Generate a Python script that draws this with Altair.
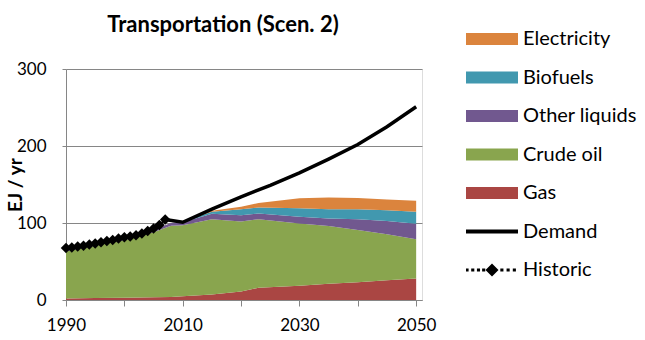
import altair as alt
import pandas as pd

# ---- data ----
years = [1990, 1995, 2000, 2005, 2008, 2010, 2015, 2020, 2023, 2030, 2035, 2040, 2045, 2050]
gas = [2, 2.5, 3, 3.5, 4, 5, 7, 11, 16, 18.5, 21, 23, 25.5, 28]
crude_oil = [61, 68, 74.5, 84.5, 92.5, 92, 98, 91, 89, 81, 75, 68, 60, 51]
other_liquids = [3, 3, 3, 3.5, 3.5, 4, 7, 8, 7.5, 8.5, 10, 14, 17, 20]
biofuels = [0, 0, 0, 0, 0, 1, 2.5, 8, 7.5, 11, 12, 13, 14, 15.5]
electricity = [0, 0, 0, 0, 0, 0.5, 1.5, 3, 6, 13, 15, 14.5, 14, 14.5]

demand_years = [2007, 2010, 2015, 2020, 2025, 2030, 2035, 2040, 2045, 2050]
demand = [104.5, 101, 118, 134, 149, 165, 183, 202, 225, 251]

historic_years = list(range(1990, 2008))
historic = [67.5, 68.3, 69.5, 70.5, 72, 73.5, 75, 76.5, 78, 80, 81.5, 82.5, 84,
            86.5, 89.5, 93, 97.5, 104.5]

series_names = ["Electricity", "Biofuels", "Other liquids", "Crude oil", "Gas", "Demand", "Historic"]
series_colors = ["#DB843D", "#4198AF", "#71588F", "#89A54E", "#AA4643", "#000000", "#000000"]
x_ticks = [1990, 2000, 2010, 2020, 2030, 2040, 2050]
y_ticks = [0, 100, 200, 300]

# ---- tables ----
stack_series = [("Gas", gas), ("Crude oil", crude_oil), ("Other liquids", other_liquids),
                ("Biofuels", biofuels), ("Electricity", electricity)]
rows = []
for order, (name, vals) in enumerate(stack_series):
    for yr, v in zip(years, vals):
        rows.append({"year": yr, "value": v, "series": name, "ord": order})
stack_df = pd.DataFrame(rows)
demand_df = pd.DataFrame({"year": demand_years, "value": demand})
hist_df = pd.DataFrame({"year": historic_years, "value": historic})

FONT = "Lato"
GRID = "#868686"

RECT = "M-1,-0.23H1V0.23H-1Z"
DEM = "M-1,-0.08H1V0.08H-1Z"
dots = "".join(f"M{c-0.06:.2f},-0.06H{c+0.06:.2f}V0.06H{c-0.06:.2f}Z"
               for c in [-0.96, -0.74, -0.52, -0.32, 0.38, 0.62, 0.86])
HIST = dots + "M-0.25,0L0,-0.25L0.25,0L0,0.25Z"
shape_expr = (f"datum.value === 'Historic' ? '{HIST}' : "
              f"(datum.value === 'Demand' ? '{DEM}' : '{RECT}')")

x_enc = alt.X("year:Q",
              scale=alt.Scale(domain=[1990, 2051], nice=False, zero=False),
              axis=alt.Axis(values=x_ticks, format="d",
                            labelExpr="(datum.value - 1990) % 20 == 0 ? datum.label : ''",
                            title=None, grid=False, domainColor=GRID, tickColor=GRID,
                            tickSize=6, labelPadding=11, labelFontSize=17, labelFont=FONT,
                            labelColor="black", labelFlush=False))
y_enc = alt.Y("value:Q",
              scale=alt.Scale(domain=[0, 300], nice=False),
              axis=alt.Axis(values=y_ticks, title="EJ / yr", grid=True, gridColor=GRID,
                            domainColor=GRID, tickColor=GRID, tickSize=4, labelPadding=16,
                            labelFontSize=17, labelFont=FONT, labelColor="black",
                            titleFont=FONT, titleFontSize=19, titleFontWeight="bold",
                            titleX=-51, titleY=115.5, titleAngle=-90, titleAlign="center",
                            titleBaseline="middle", titleColor="black"))

areas = alt.Chart(stack_df).mark_area(opacity=1).encode(
    x=x_enc,
    y=y_enc.stack("zero"),
    color=alt.Color("series:N",
                    scale=alt.Scale(domain=series_names, range=series_colors),
                    legend=alt.Legend(title=None, orient="none", legendX=400, legendY=-40,
                                      symbolType=alt.ExprRef(expr=shape_expr),
                                      symbolSize=2704, symbolStrokeWidth=0,
                                      clipHeight=20, rowPadding=18.5, labelOffset=5,
                                      labelFontSize=20, labelFont=FONT, labelColor="black",
                                      padding=0)),
    order=alt.Order("ord:Q"),
)

demand_line = alt.Chart(demand_df).mark_line(color="black", strokeWidth=3.5).encode(
    x="year:Q", y="value:Q")

hist_line = alt.Chart(hist_df).mark_line(color="black", strokeWidth=2, strokeDash=[2, 3]).encode(
    x="year:Q", y="value:Q")
hist_pts = alt.Chart(hist_df).mark_point(shape="diamond", filled=True, color="black",
                                         size=110, opacity=1).encode(
    x="year:Q", y="value:Q")

chart = alt.layer(areas, demand_line, hist_line, hist_pts).properties(
    width=356, height=231,
    title=alt.TitleParams("Transportation (Scen. 2)", font=FONT, fontSize=22,
                          fontWeight="bold", anchor="middle", dx=-21, dy=12, color="black"),
    autosize=alt.AutoSizeParams(type="none"),
    padding={"left": 66, "top": 69, "right": 223, "bottom": 40},
).configure_view(stroke=None).configure(background="white")

chart.save("out.html", embed_options={"renderer": "svg", "actions": False})
